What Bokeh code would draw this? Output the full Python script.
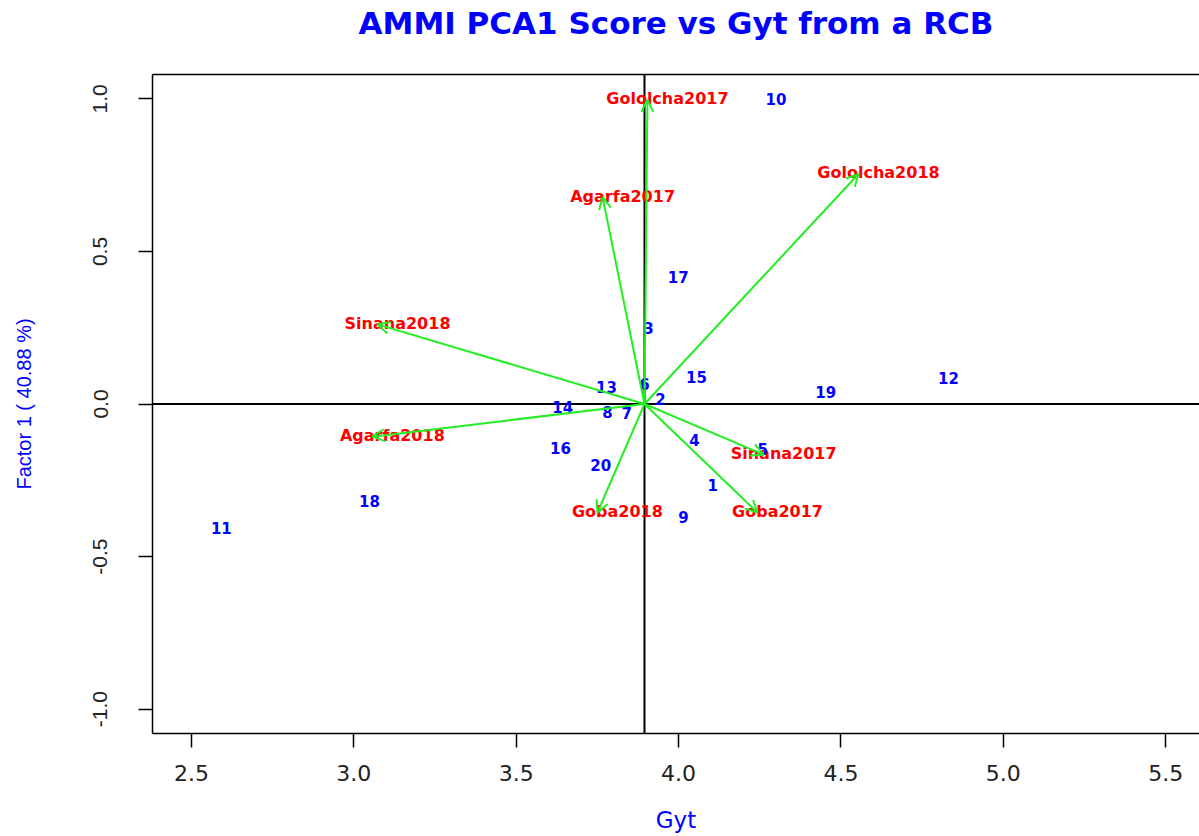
from bokeh.plotting import figure
from bokeh.models import (ColumnDataSource, Range1d, FixedTicker, NumeralTickFormatter,
                          Span, Arrow, OpenHead, LinearAxis)
from bokeh.core.properties import value
from bokeh.embed import file_html
from bokeh.resources import INLINE

# Genotypes: mean yield (Gyt) and PCA1 score
gen_labels = ["1", "2", "3", "4", "5", "6", "7", "8", "9", "10",
              "11", "12", "13", "14", "15", "16", "17", "18", "19", "20"]
gen_gyt = [4.105, 3.944, 3.907, 4.049, 4.259, 3.895, 3.840, 3.781, 4.015, 4.300,
           2.592, 4.831, 3.778, 3.643, 4.055, 3.636, 3.999, 3.048, 4.453, 3.760]
gen_pc1 = [-0.264, 0.018, 0.248, -0.117, -0.149, 0.064, -0.028, -0.025, -0.370, 1.000,
           -0.405, 0.084, 0.057, -0.011, 0.087, -0.143, 0.415, -0.317, 0.038, -0.199]

# Environments: mean yield and PCA1 score
env_labels = ["Gololcha2017", "Gololcha2018", "Agarfa2017", "Sinana2018",
              "Agarfa2018", "Sinana2017", "Goba2017", "Goba2018"]
env_gyt = [3.904, 4.554, 3.766, 3.073, 3.057, 4.262, 4.243, 3.750]
env_pc1 = [0.997, 0.754, 0.678, 0.261, -0.107, -0.166, -0.356, -0.356]

grand_mean = 3.895

x_ticks = [2.5, 3.0, 3.5, 4.0, 4.5, 5.0, 5.5]
y_ticks = [-1.0, -0.5, 0.0, 0.5, 1.0]

title_text = "AMMI PCA1 Score vs Gyt from a RCB"

BLUE = "#0000FF"
RED = "#FF0000"
GREEN = "#22EE22"

p = figure(width=1199, height=836, output_backend="svg", toolbar_location=None,
           title_location=None,
           x_range=Range1d(2.38, 5.604), y_range=Range1d(-1.08, 1.08),
           min_border_left=152, min_border_right=0, min_border_top=74, min_border_bottom=103)
p.grid.visible = False
p.outline_line_color = None
p.background_fill_color = "white"

for ax in (p.xaxis[0], p.yaxis[0]):
    ax.axis_line_color = "black"
    ax.axis_line_width = 1.5
    ax.major_tick_line_color = "black"
    ax.major_tick_line_width = 1.5
    ax.major_tick_out = 14
    ax.major_tick_in = 0
    ax.minor_tick_line_color = None
    ax.formatter = NumeralTickFormatter(format="0.0")
    ax.major_label_text_color = "#222222"
    ax.axis_label_text_color = BLUE
    ax.axis_label_text_font_style = "normal"

p.xaxis[0].ticker = FixedTicker(ticks=x_ticks)
p.xaxis[0].major_label_text_font = "DejaVu Sans"
p.xaxis[0].major_label_text_font_size = "22px"
p.xaxis[0].axis_label = "Gyt"
p.xaxis[0].axis_label_text_font = "DejaVu Sans"
p.xaxis[0].axis_label_text_font_size = "23px"
p.xaxis[0].major_label_standoff = 17
p.xaxis[0].axis_label_standoff = 23

p.yaxis[0].ticker = FixedTicker(ticks=y_ticks)
p.yaxis[0].major_label_text_font = "Liberation Sans"
p.yaxis[0].major_label_text_font_size = "21px"
p.yaxis[0].axis_label = "Factor 1 ( 40.88 %)"
p.yaxis[0].axis_label_text_font = "Liberation Sans"
p.yaxis[0].axis_label_text_font_size = "20px"
p.yaxis[0].major_label_orientation = "vertical"
p.yaxis[0].major_label_standoff = 31
p.yaxis[0].axis_label_standoff = 56

# top border of the box, carrying the chart title
top = LinearAxis(ticker=FixedTicker(ticks=[]), axis_line_color="black", axis_line_width=1.5,
                 major_tick_line_color=None, minor_tick_line_color=None,
                 major_tick_out=0, major_label_standoff=0,
                 major_label_text_font_size="0px",
                 axis_label=title_text, axis_label_text_color=BLUE,
                 axis_label_text_font="DejaVu Sans", axis_label_text_font_style="bold",
                 axis_label_text_font_size="31px", axis_label_standoff=34)
p.add_layout(top, "above")

p.add_layout(Span(location=grand_mean, dimension="height", line_color="black",
                  line_width=2, level="underlay"))
p.add_layout(Span(location=0, dimension="width", line_color="black",
                  line_width=2, level="underlay"))

env_src = ColumnDataSource(dict(
    x0=[grand_mean] * len(env_gyt), y0=[0.0] * len(env_gyt),
    x=env_gyt, y=env_pc1, name=env_labels))
gen_src = ColumnDataSource(dict(x=gen_gyt, y=gen_pc1, name=gen_labels))

p.text(x="x", y="y", text="name", source=env_src, text_color=RED,
       text_font=value("DejaVu Sans"), text_font_style="bold", text_font_size="16px",
       text_align="center", text_baseline="middle", x_offset=20, y_offset=-1)
p.text(x="x", y="y", text="name", source=gen_src, text_color=BLUE,
       text_font=value("DejaVu Sans"), text_font_style="bold", text_font_size="15px",
       text_align="center", text_baseline="middle")

p.add_layout(Arrow(end=OpenHead(size=12, line_color=GREEN, line_width=2),
                   x_start="x0", y_start="y0", x_end="x", y_end="y",
                   line_color=GREEN, line_width=2, source=env_src))

open("out.html", "w").write(file_html(p, INLINE))
